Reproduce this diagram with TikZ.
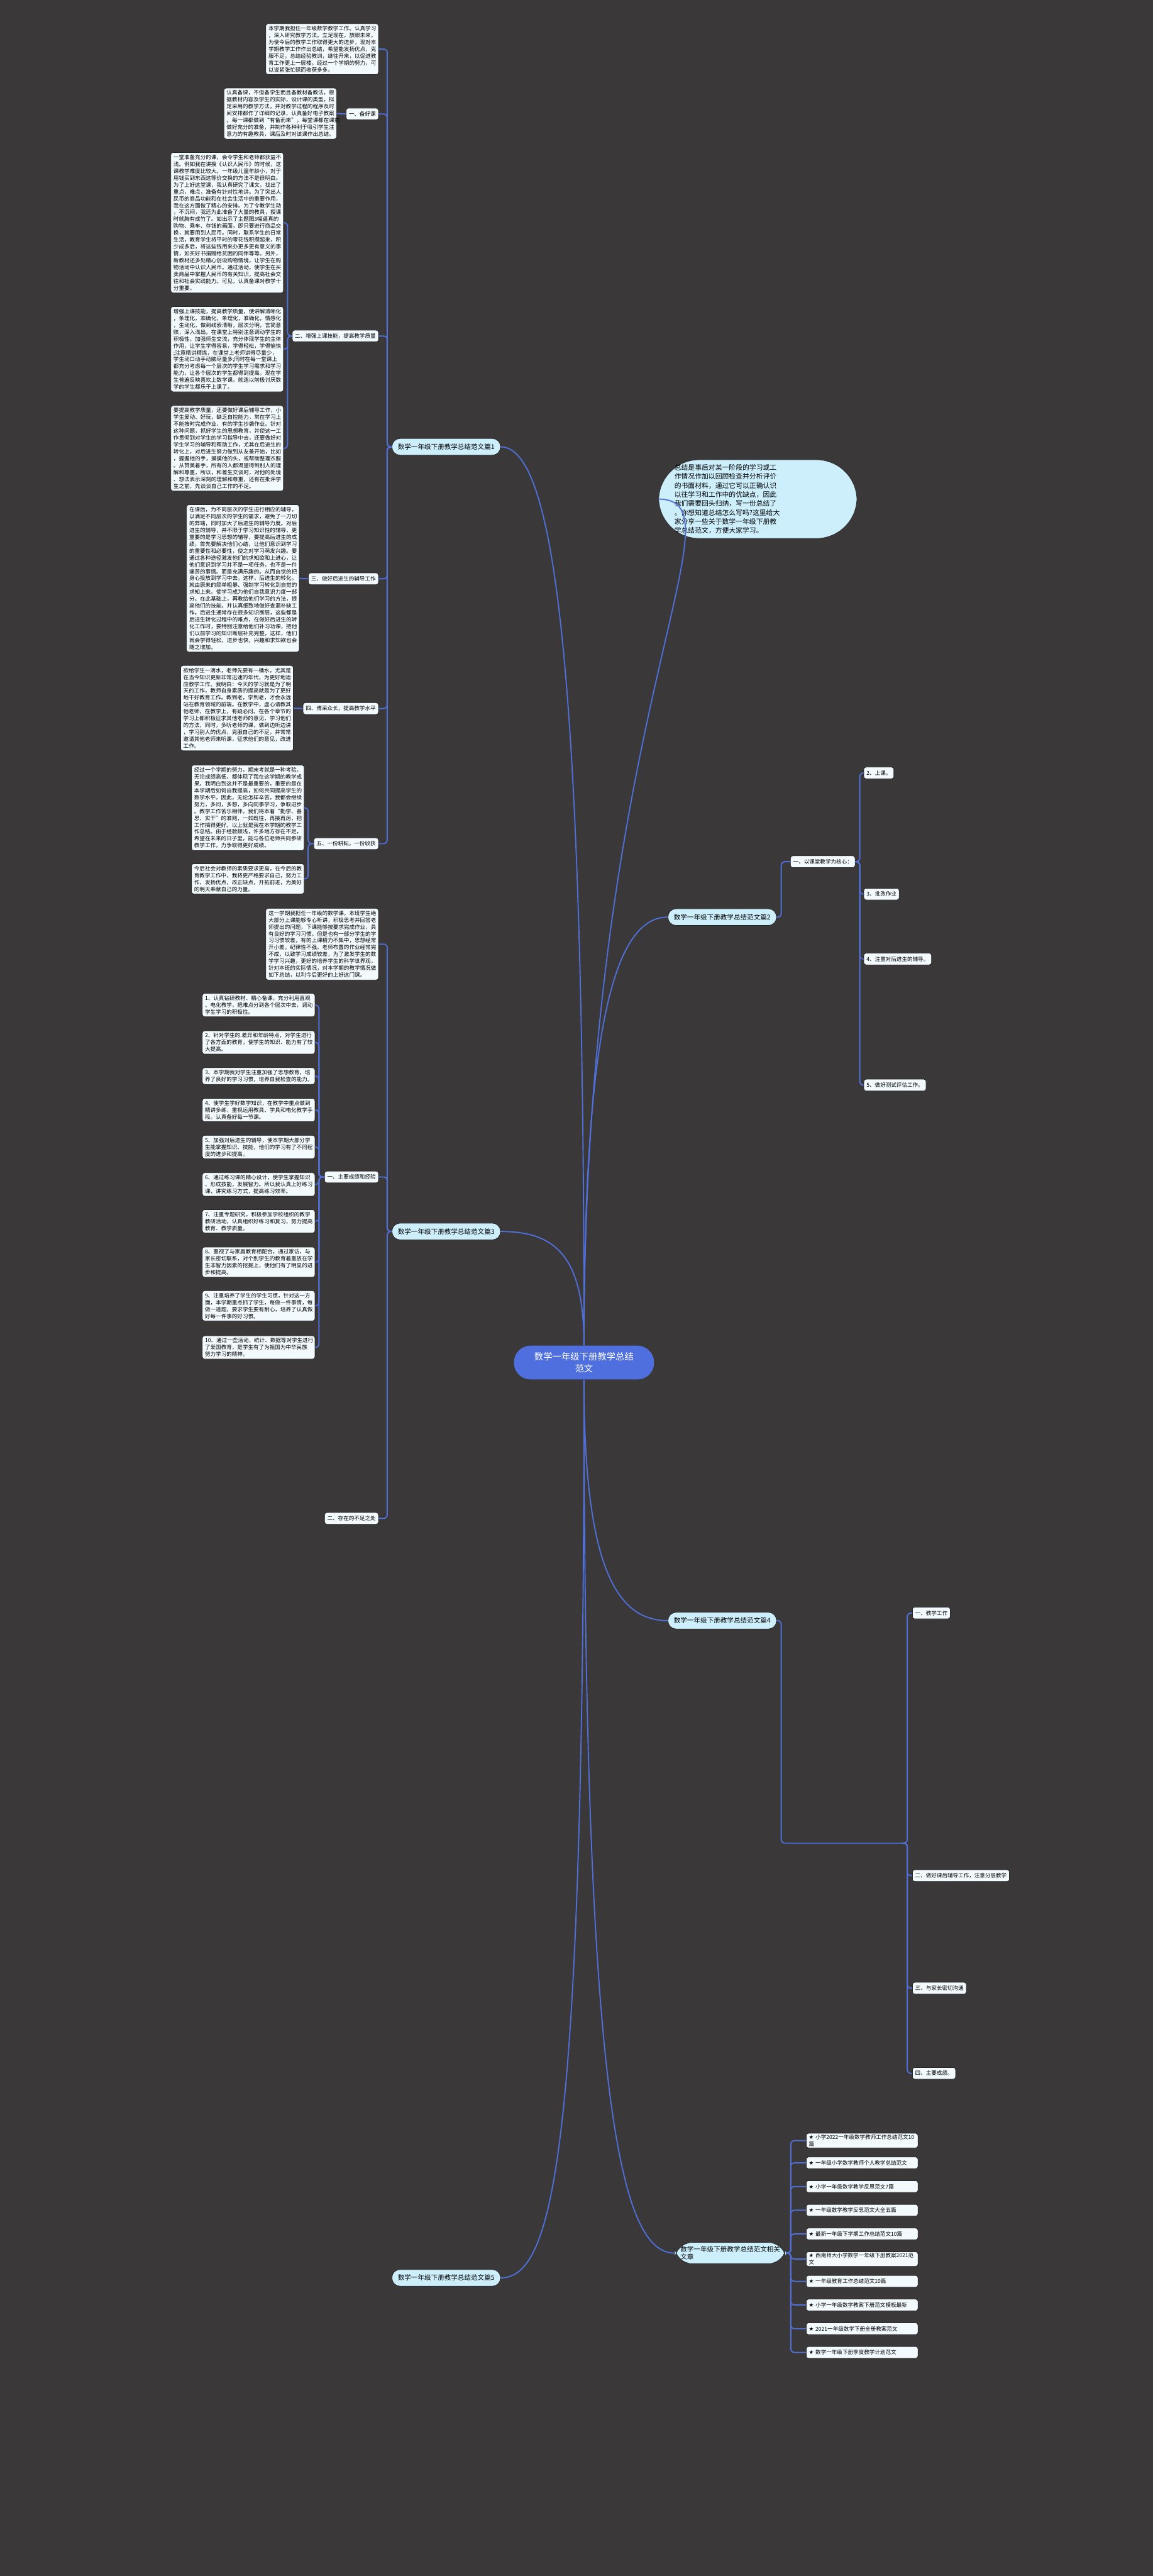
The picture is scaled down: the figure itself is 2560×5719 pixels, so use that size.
\documentclass[tikz,border=0pt]{standalone}
\usepackage{fontspec}
\setmainfont{Noto Sans CJK SC}
\newfontfamily\starfont{DejaVu Sans}
\usetikzlibrary{positioning}
\definecolor{mapbg}{HTML}{3A3839}
\definecolor{mapline}{HTML}{5070D8}
\definecolor{mapcore}{HTML}{4F6FDE}
\definecolor{maptopic}{HTML}{CDEFFC}
\definecolor{mapnote}{HTML}{F3FAFE}
\newcommand{\relstar}{{\starfont ★}~}
\tikzset{
  map core/.style={
    fill=mapcore, text=white, rounded corners=0.37cm, align=center,
    minimum width=3.11cm, minimum height=0.75cm, inner sep=0pt,
    font=\fontsize{5.7}{7.7}\selectfont
  },
  map topic/.style={
    fill=maptopic, draw=black!85, line width=0.3pt, rounded corners=0.18cm,
    minimum height=0.37cm, inner xsep=0.13cm, inner ysep=0pt,
    font=\fontsize{4.2}{5}\selectfont
  },
  map label/.style={
    fill=mapnote, draw=black!85, line width=0.3pt, rounded corners=0.05cm,
    minimum height=0.26cm, inner xsep=0.06cm, inner ysep=0.03cm,
    font=\fontsize{3.4}{4.35}\selectfont
  },
  map note/.style={
    map label, align=left, text width=2.38cm, inner ysep=0.05cm
  },
  map link/.style={draw=mapline, line width=0.75pt},
  map fork/.style={map link, rounded corners=0.08cm}
}

\begin{document}
\begin{tikzpicture}[x=0.01cm,y=-0.01cm]
  \useasboundingbox (0,0) rectangle (2560,5719);
  \fill[mapbg] (0,0) rectangle (2560,5719);

  % centre and main branches
  \node[map core] (core) at (1297,3025) {数学一年级下册教学总结\\范文};
  \node[map topic, text width=3.7cm, align=left, rounded corners=0.9cm,
        inner xsep=0.35cm, inner ysep=0.1cm, font=\fontsize{4.3}{5.7}\selectfont]
        (intro) at (1683,1108)
        {总结是事后对某一阶段的学习或工\\作情况作加以回顾检查并分析评价\\的书面材料，通过它可以正确认识\\以往学习和工作中的优缺点，因此\\我们需要回头归纳，写一份总结了\\。你想知道总结怎么写吗?这里给大\\家分享一些关于数学一年级下册教\\学总结范文，方便大家学习。};
  \node[map topic] (pian1) at (991,992) {数学一年级下册教学总结范文篇1};
  \node[map topic] (pian2) at (1604,2036) {数学一年级下册教学总结范文篇2};
  \node[map topic] (pian3) at (991,2734) {数学一年级下册教学总结范文篇3};
  \node[map topic] (pian4) at (1604,3598) {数学一年级下册教学总结范文篇4};
  \node[map topic] (pian5) at (991,5057) {数学一年级下册教学总结范文篇5};
  \node[map topic, align=left, rounded corners=0.4cm, inner ysep=0.08cm]
        (related) at (1622,5002) {数学一年级下册教学总结范文相关\\文章};

  \draw[map link] (core.north) .. controls +(0,-1400) and +(200,0) .. (intro.west);
  \draw[map link] (core.north) .. controls +(0,-1500) and +(120,0) .. (pian1.east);
  \draw[map link] (core.north) .. controls +(0,-700) and +(-120,0) .. (pian2.west);
  \draw[map link] (core.north) .. controls +(0,-200) and +(120,0) .. (pian3.east);
  \draw[map link] (core.south) .. controls +(0,400) and +(-120,0) .. (pian4.west);
  \draw[map link] (core.south) .. controls +(0,1700) and +(120,0) .. (pian5.east);
  \draw[map link] (core.south) .. controls +(0,1600) and +(-120,0) .. (related.west);

  % branch 1
  \node[map note, anchor=north east] (p1intro) at (841,52)
    {本学期我担任一年级数学教学工作。认真学习\\，深入研究教学方法。立足现在，放眼未来，\\为使今后的教学工作取得更大的进步，现对本\\学期教学工作作出总结，希望能发扬优点，克\\服不足，总结经验教训，继往开来，以促进教\\育工作更上一层楼。经过一个学期的努力，可\\以说紧张忙碌而收获多多。};
  \node[map label, anchor=east] (p1a) at (841,253) {一、备好课};
  \node[map label, anchor=east] (p1b) at (841,746) {二、增强上课技能，提高教学质量};
  \node[map label, anchor=east] (p1c) at (841,1285) {三、做好后进生的辅导工作};
  \node[map label, anchor=east] (p1d) at (841,1573) {四、博采众长，提高教学水平};
  \node[map label, anchor=east] (p1e) at (841,1873) {五、一份耕耘，一份收获};
  \foreach \k in {p1intro,p1a,p1b,p1c,p1d,p1e}
    \draw[map fork] (pian1.west) -- ++(-10,0) |- (\k.east);

  \node[map note, anchor=north east] (p1a1) at (748,195)
    {认真备课，不但备学生而且备教材备教法，根\\据教材内容及学生的实际，设计课的类型，拟\\定采用的教学方法，并对教学过程的程序及时\\间安排都作了详细的记录，认真备好电子教案\\。每一课都做到“有备而来”，每堂课都在课前\\做好充分的准备，并制作各种利于吸引学生注\\意力的有趣教具，课后及时对该课作出总结。};
  \draw[map fork] (p1a.west) -- (p1a1.east);

  \node[map note, anchor=north east] (p1b1) at (630,338)
    {一堂准备充分的课，会令学生和老师都获益不\\浅。例如我在讲授《认识人民币》的时候，这\\课教学难度比较大。一年级儿童年龄小，对于\\用钱买到东西这等价交换的方法不是很明白。\\为了上好这堂课，我认真研究了课文，找出了\\重点，难点，准备有针对性地讲。为了突出人\\民币的商品功能和在社会生活中的重要作用，\\我在这方面做了精心的安排。为了令教学生动\\，不沉闷，我还为此准备了大量的教具，授课\\时就胸有成竹了。如出示了主题图3幅逼真的\\购物、乘车、存钱的画面，即只要进行商品交\\换，就要用到人民币。同时，联系学生的日常\\生活，教育学生将平时的零花钱积攒起来，积\\少成多后，将这些钱用来办更多更有意义的事\\情，如买好书捐赠给贫困的同伴等等。另外，\\新教材还多处精心创设购物情境，让学生在购\\物活动中认识人民币。通过活动，使学生在买\\卖商品中掌握人民币的有关知识，提高社会交\\往和社会实践能力。可见，认真备课对教学十\\分重要。};
  \node[map note, anchor=north east] (p1b2) at (630,680)
    {增强上课技能，提高教学质量，使讲解清晰化\\，条理化，准确化，条理化，准确化，情感化\\，生动化，做到线索清晰，层次分明，言简意\\赅，深入浅出。在课堂上特别注意调动学生的\\积极性，加强师生交流，充分体现学生的主体\\作用，让学生学得容易，学得轻松，学得愉快\\;注意精讲精练，在课堂上老师讲得尽量少，\\学生动口动手动脑尽量多;同时在每一堂课上\\都充分考虑每一个层次的学生学习需求和学习\\能力，让各个层次的学生都得到提高。现在学\\生普遍反映喜欢上数学课，就连以前极讨厌数\\学的学生都乐于上课了。};
  \node[map note, anchor=north east] (p1b3) at (630,900)
    {要提高教学质量，还要做好课后辅导工作，小\\学生爱动、好玩，缺乏自控能力，常在学习上\\不能按时完成作业，有的学生抄袭作业。针对\\这种问题，抓好学生的思想教育，并使这一工\\作贯彻到对学生的学习指导中去，还要做好对\\学生学习的辅导和帮助工作，尤其在后进生的\\转化上，对后进生努力做到从友善开始，比如\\，握握他的手，摸摸他的头，或帮助整理衣服\\。从赞美着手，所有的人都渴望得到别人的理\\解和尊重，所以，和差生交谈时，对他的处境\\、想法表示深刻的理解和尊重，还有在批评学\\生之前，先谈谈自己工作的不足。};
  \foreach \k in {p1b1,p1b2,p1b3}
    \draw[map fork] (p1b.west) -- ++(-10,0) |- (\k.east);

  \node[map note, anchor=north east] (p1c1) at (665,1120)
    {在课后，为不同层次的学生进行相应的辅导，\\以满足不同层次的学生的需求，避免了一刀切\\的弊端，同时加大了后进生的辅导力度。对后\\进生的辅导，并不限于学习知识性的辅导，更\\重要的是学习思想的辅导，要提高后进生的成\\绩，首先要解决他们心结，让他们意识到学习\\的重要性和必要性，使之对学习萌发兴趣。要\\通过各种途径激发他们的求知欲和上进心，让\\他们意识到学习并不是一项任务，也不是一件\\痛苦的事情。而是充满乐趣的。从而自觉的把\\身心投放到学习中去。这样，后进生的转化，\\就由原来的简单粗暴、强制学习转化到自觉的\\求知上来。使学习成为他们自我意识力度一部\\分。在此基础上，再教给他们学习的方法，提\\高他们的技能。并认真细致地做好查漏补缺工\\作。后进生通常存在很多知识断层，这些都是\\后进生转化过程中的难点，在做好后进生的转\\化工作时，要特别注意给他们补习功课，把他\\们以前学习的知识断层补充完整，这样，他们\\就会学得轻松，进步也快，兴趣和求知欲也会\\随之增加。};
  \draw[map fork] (p1c.west) -- (p1c1.east);

  \node[map note, anchor=north east] (p1d1) at (652,1477)
    {欲给学生一滴水，老师先要有一桶水，尤其是\\在当今知识更新非常迅速的年代，为更好地适\\应教学工作。我明白：今天的学习就是为了明\\天的工作，教师自身素质的提高就是为了更好\\地干好教育工作。教到老，学到老，才会永远\\站在教育领域的前端。在教学中，虚心请教其\\他老师，在教学上，有疑必问。在各个章节的\\学习上都积极征求其他老师的意见，学习他们\\的方法，同时，多听老师的课，做到边听边讲\\，学习别人的优点，克服自己的不足，并常常\\邀请其他老师来听课，征求他们的意见，改进\\工作。};
  \draw[map fork] (p1d.west) -- (p1d1.east);

  \node[map note, anchor=north east] (p1e1) at (676,1698)
    {经过一个学期的努力，期末考就是一种考验。\\无论成绩高低，都体现了我在这学期的教学成\\果。我明白到这并不是最重要的，重要的是在\\本学期后如何自我提高，如何共同提高学生的\\数学水平。因此，无论怎样辛苦，我都会继续\\努力，多问，多想，多向同事学习，争取进步\\。教学工作苦乐相伴。我们将本着“勤学、善\\思、实干”的准则，一如既往，再接再厉，把\\工作搞得更好。以上就是我在本学期的教学工\\作总结。由于经验颇浅，许多地方存在不足，\\希望在未来的日子里，能与各位老师共同参研\\教学工作，力争取得更好成绩。};
  \node[map note, anchor=north east] (p1e2) at (676,1917)
    {今后社会对教师的素质要求更高，在今后的教\\育教学工作中，我将更严格要求自己，努力工\\作，发扬优点，改正缺点，开拓前进，为美好\\的明天奉献自己的力量。};
  \foreach \k in {p1e1,p1e2}
    \draw[map fork] (p1e.west) -- ++(-12,0) |- (\k.east);

  % branch 2
  \node[map label, anchor=west] (p2a) at (1755,1913) {一，以课堂教学为核心：};
  \draw[map fork] (pian2.east) -- ++(10,0) |- (p2a.west);
  \node[map label, anchor=west] (p2a2) at (1918,1716) {2、上课。};
  \node[map label, anchor=west] (p2a3) at (1918,1985) {3、批改作业};
  \node[map label, anchor=west] (p2a4) at (1918,2129) {4、注重对后进生的辅导。};
  \node[map label, anchor=west] (p2a5) at (1918,2409) {5、做好测试评估工作。};
  \foreach \k in {p2a2,p2a3,p2a4,p2a5}
    \draw[map fork] (p2a.east) -- ++(10,0) |- (\k.west);

  % branch 3
  \node[map note, anchor=north east] (p3intro) at (841,2016)
    {这一学期我担任一年级的数学课，本班学生绝\\大部分上课能够专心听讲，积极思考并回答老\\师提出的问题，下课能够按要求完成作业，具\\有良好的学习习惯。但是也有一部分学生的学\\习习惯较差，有的上课精力不集中，思想经常\\开小差，纪律性不强。老师布置的作业经常完\\不成，以致学习成绩较差，为了激发学生的数\\学学习兴趣，更好的培养学生的科学世界观，\\针对本班的实际情况，对本学期的教学情况做\\如下总结，以利今后更好的上好这门课。};
  \node[map label, anchor=east] (p3a) at (841,2613) {一、主要成绩和经验};
  \node[map label, anchor=east] (p3b) at (841,3371) {二、存在的不足之处};
  \foreach \k in {p3intro,p3a,p3b}
    \draw[map fork] (pian3.west) -- ++(-10,0) |- (\k.east);

  \foreach \t/\y [count=\i] in {
      {1、认真钻研教材、精心备课，充分利用直观\\、电化教学，把难点分到各个层次中去，调动\\学生学习的积极性。}/2205,
      {2、针对学生的.差异和年龄特点，对学生进行\\了各方面的教育，使学生的知识、能力有了较\\大提高。}/2288,
      {3、本学期我对学生注重加强了思想教育，培\\养了良好的学习习惯，培养自我检查的能力。}/2370,
      {4、使学生学好数学知识，在教学中重点做到\\精讲多练，重视运用教具、学具和电化教学手\\段。认真备好每一节课。}/2438,
      {5、加强对后进生的辅导，使本学期大部分学\\生能掌握知识、技能，他们的学习有了不同程\\度的进步和提高。}/2520,
      {6、通过练习课的精心设计，使学生掌握知识\\、形成技能，发展智力。所以我认真上好练习\\课，讲究练习方式，提高练习效率。}/2603,
      {7、注重专题研究，积极参加学校组织的教学\\教研活动，认真组织好练习和复习，努力提高\\教育、教学质量。}/2685,
      {8、重视了与家庭教育相配合，通过家访，与\\家长密切联系，对个别学生的教育着重放在学\\生非智力因素的挖掘上，使他们有了明显的进\\步和提高。}/2768,
      {9、注重培养了学生的学生习惯，针对这一方\\面，本学期重点抓了学生，每做一件事情，每\\做一道题，要求学生要有耐心，培养了认真做\\好每一件事的好习惯。}/2865,
      {10、通过一些活动，统计、数据等对学生进行\\了爱国教育，是学生有了为祖国为中华民族\\努力学习的精神。}/2965} {
    \node[map note, anchor=north east] (p3a\i) at (700,\y) {\t};
    \draw[map fork] (p3a.west) -- ++(-12,0) |- (p3a\i.east);
  }

  % branch 4: the four headings hang off one fork further right
  \coordinate (p4hub) at (2003,4092);
  \draw[map fork] (pian4.east) -- ++(10,0) |- (p4hub);
  \node[map label, anchor=west] (p4a) at (2026,3581) {一、教学工作};
  \node[map label, anchor=west] (p4b) at (2026,4164) {二、做好课后辅导工作，注意分层教学};
  \node[map label, anchor=west] (p4c) at (2026,4414) {三、与家长密切沟通};
  \node[map label, anchor=west] (p4d) at (2026,4603) {四、主要成绩。};
  \foreach \k in {p4a,p4b,p4c,p4d}
    \draw[map fork] (p4hub) -- ++(12,0) |- (\k.west);

  % related articles
  \foreach \t [count=\i] in {
      {\relstar 小学2022一年级数学教师工作总结范文10\\篇},
      {\relstar 一年级小学数学教师个人教学总结范文},
      {\relstar 小学一年级数学教学反思范文7篇},
      {\relstar 一年级数学教学反思范文大全五篇},
      {\relstar 最新一年级下学期工作总结范文10篇},
      {\relstar 西南师大小学数学一年级下册教案2021范\\文},
      {\relstar 一年级教育工作总结范文10篇},
      {\relstar 小学一年级数学教案下册范文模板最新},
      {\relstar 2021一年级数学下册全册教案范文},
      {\relstar 数学一年级下册季度教学计划范文}} {
    \node[map label, anchor=north west, align=left, text width=2.36cm]
      (rel\i) at (1790,4683+52.6*\i) {\t};
    \draw[map fork] (related.east) -- ++(10,0) |- (rel\i.west);
  }
\end{tikzpicture}
\end{document}
